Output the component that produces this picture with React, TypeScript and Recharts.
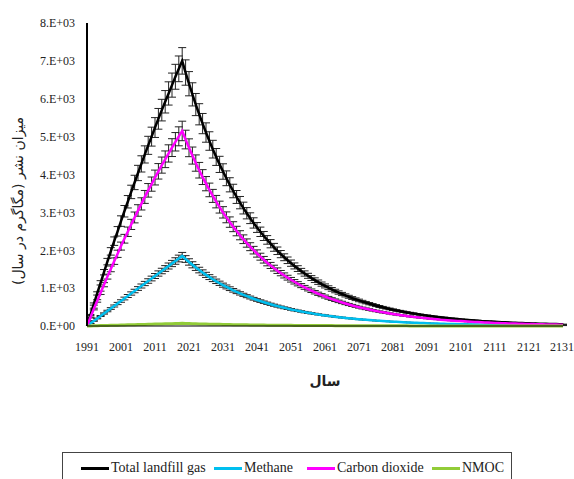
import React from 'react';
import { LineChart, Line, XAxis, YAxis, ErrorBar } from 'recharts';

// years 1991..2131, one point per year
const years: number[] = Array.from({ length: 141 }, (_, i) => 1991 + i);
const yearTicks = [1991, 2001, 2011, 2021, 2031, 2041, 2051, 2061, 2071, 2081, 2091, 2101, 2111, 2121, 2131];
const yTicks = [0, 1000, 2000, 3000, 4000, 5000, 6000, 7000, 8000];

// Mg/year
const totalGas = [
  0, 290, 580, 860, 1140, 1420, 1700, 1970, 2240, 2500,
  2770, 3030, 3280, 3540, 3790, 4040, 4280, 4530, 4770, 5000,
  5240, 5470, 5700, 5920, 6140, 6360, 6580, 6790, 7000,
  6692, 6397, 6116, 5847, 5590, 5344, 5108, 4884, 4669, 4463,
  4267, 4079, 3900, 3728, 3564, 3407, 3257, 3114, 2977, 2846,
  2721, 2601, 2487, 2377, 2273, 2173, 2077, 1986, 1898, 1815,
  1735, 1659, 1586, 1516, 1449, 1386, 1325, 1266, 1211, 1157,
  1106, 1058, 1011, 967, 924, 884, 845, 808, 772, 738,
  706, 675, 645, 617, 590, 564, 539, 515, 492, 471,
  450, 430, 411, 393, 376, 359, 344, 328, 314, 300,
  287, 274, 262, 251, 240, 229, 219, 209, 200, 191,
  183, 175, 167, 160, 153, 146, 140, 133, 128, 122,
  117, 111, 106, 102, 97, 93, 89, 85, 81, 78,
  74, 71, 68, 65, 62, 59, 57, 54, 52, 50,
  48, 45,
];

const methane = [
  0, 66, 132, 198, 264, 330, 396, 462, 528, 594,
  660, 726, 792, 858, 924, 990, 1056, 1122, 1188, 1254,
  1320, 1386, 1452, 1518, 1584, 1650, 1716, 1782, 1850,
  1769, 1691, 1616, 1545, 1477, 1412, 1350, 1291, 1234, 1180,
  1128, 1078, 1031, 985, 942, 900, 861, 823, 787, 752,
  719, 687, 657, 628, 601, 574, 549, 525, 502, 480,
  459, 438, 419, 401, 383, 366, 350, 335, 320, 306,
  292, 280, 267, 256, 244, 234, 223, 214, 204, 195,
  187, 178, 170, 163, 156, 149, 142, 136, 130, 124,
  119, 114, 109, 104, 99, 95, 91, 87, 83, 79,
  76, 72, 69, 66, 63, 61, 58, 55, 53, 50,
  48, 46, 44, 42, 40, 39, 37, 35, 34, 32,
  31, 29, 28, 27, 26, 25, 24, 22, 21, 21,
  20, 19, 18, 17, 16, 16, 15, 14, 14, 13,
  13, 12,
];

const carbonDioxide = [
  0, 224, 448, 662, 876, 1090, 1304, 1508, 1712, 1906,
  2110, 2304, 2488, 2682, 2866, 3050, 3224, 3408, 3582, 3746,
  3920, 4084, 4248, 4402, 4556, 4710, 4864, 5008, 5150,
  4923, 4706, 4500, 4302, 4113, 3932, 3758, 3593, 3435, 3283,
  3139, 3001, 2869, 2743, 2622, 2507, 2396, 2291, 2190, 2094,
  2002, 1914, 1830, 1749, 1672, 1599, 1528, 1461, 1396, 1335,
  1276, 1221, 1167, 1115, 1066, 1020, 975, 931, 891, 851,
  814, 778, 744, 711, 680, 650, 622, 594, 568, 543,
  519, 497, 475, 454, 434, 415, 397, 379, 362, 347,
  331, 316, 302, 289, 277, 264, 253, 241, 231, 221,
  211, 202, 193, 185, 177, 168, 161, 154, 147, 141,
  135, 129, 123, 118, 113, 107, 103, 98, 94, 90,
  86, 82, 78, 75, 71, 68, 65, 63, 60, 57,
  54, 52, 50, 48, 46, 43, 42, 40, 38, 37,
  35, 33,
];

const nmoc = [
  0, 2, 5, 7, 10, 12, 15, 17, 20, 22,
  25, 27, 30, 32, 35, 37, 40, 42, 45, 47,
  50, 52, 55, 57, 60, 62, 65, 67, 70,
  67, 64, 61, 58, 56, 53, 51, 49, 47, 45,
  43, 41, 39, 37, 36, 34, 33, 31, 30, 28,
  27, 26, 25, 24, 23, 22, 21, 20, 19, 18,
  17, 17, 16, 15, 14, 14, 13, 13, 12, 12,
  11, 11, 10, 10, 9, 9, 8, 8, 8, 7,
  7, 7, 6, 6, 6, 6, 5, 5, 5, 5,
  4, 4, 4, 4, 4, 4, 3, 3, 3, 3,
  3, 3, 3, 3, 2, 2, 2, 2, 2, 2,
  2, 2, 2, 2, 2, 1, 1, 1, 1, 1,
  1, 1, 1, 1, 1, 1, 1, 1, 1, 1,
  1, 1, 1, 1, 1, 1, 1, 1, 1, 1,
  0, 0,
];

// error bars look like about +/-5% of each value
const ERR = 0.05;

const data = years.map((year, i) => ({
  year,
  total: totalGas[i],
  methane: methane[i],
  co2: carbonDioxide[i],
  nmoc: nmoc[i],
}));

const serif = '"Liberation Serif", "Times New Roman", serif';

const fmtY = (v: number) => (v === 0 ? '0.E+00' : `${v / 1000}.E+03`);

const legendItems = [
  { name: 'Total landfill gas', color: '#000000', left: 80 },
  { name: 'Methane', color: '#00BFEF', left: 213 },
  { name: 'Carbon dioxide', color: '#FF00FF', left: 306 },
  { name: 'NMOC', color: '#92CC38', left: 431 },
];

const errKeys = ['total', 'methane', 'co2'];

export default function App() {
  return (
    <div style={{ position: 'absolute', left: 0, top: 0, width: 574, height: 479, background: '#fff', overflow: 'hidden' }}>
      <LineChart width={574} height={479} data={data} margin={{ top: 23, right: 11, left: 0, bottom: 103 }}>
        <XAxis
          dataKey="year"
          type="number"
          domain={[1991, 2131]}
          ticks={yearTicks}
          tickLine={false}
          tickSize={6}
          tickMargin={10}
          height={50}
          axisLine={{ stroke: '#000', strokeWidth: 1 }}
          tick={{ fontFamily: serif, fontSize: 12, fill: '#222' }}
          label={{ value: 'سال', position: 'bottom', offset: 0, style: { fontFamily: 'DejaVu Sans, sans-serif', fontSize: 14, fontWeight: 'bold', fill: '#222' } }}
        />
        <YAxis
          domain={[0, 8000]}
          ticks={yTicks}
          tickFormatter={fmtY}
          width={87}
          tickLine={false}
          tickSize={6}
          tickMargin={6}
          axisLine={{ stroke: '#000', strokeWidth: 2 }}
          tick={{ fontFamily: serif, fontSize: 12, fill: '#222' }}
        />
        {/* error bars first, so the coloured lines sit on top of them */}
        {errKeys.map((k) => (
          <Line key={`err-${k}`} dataKey={k} stroke="none" dot={false} legendType="none" isAnimationActive={false}>
            <ErrorBar dataKey={(d: any) => d[k] * ERR} width={4} stroke="#222" strokeWidth={1} direction="y" isAnimationActive={false} />
          </Line>
        ))}
        <Line dataKey="total" stroke="#000000" strokeWidth={2.5} dot={false} isAnimationActive={false} />
        <Line dataKey="methane" stroke="#00BFEF" strokeWidth={2.5} dot={false} isAnimationActive={false} />
        <Line dataKey="co2" stroke="#FF00FF" strokeWidth={2.5} dot={false} isAnimationActive={false} />
        <Line dataKey="nmoc" stroke="#92CC38" strokeWidth={3} dot={false} isAnimationActive={false} />
      </LineChart>

      <div
        style={{
          position: 'absolute',
          left: 18,
          top: 201,
          transform: 'translate(-50%, -50%) rotate(-90deg)',
          whiteSpace: 'nowrap',
          direction: 'rtl',
          fontFamily: 'DejaVu Sans, sans-serif',
          fontSize: 14,
          color: '#222',
        }}
      >
        میزان نشر (مگاگرم در سال)
      </div>

      <div style={{ position: 'absolute', left: 62, top: 452, width: 450, height: 40, border: '1px solid #444', boxSizing: 'border-box' }}>
        {legendItems.map((it) => (
          <div key={it.name} style={{ position: 'absolute', left: it.left - 62, top: 7, display: 'flex', alignItems: 'center', fontFamily: serif, fontSize: 14, color: '#222' }}>
            <span style={{ display: 'inline-block', width: 28, height: 3, background: it.color, marginRight: 2 }} />
            {it.name}
          </div>
        ))}
      </div>
    </div>
  );
}
